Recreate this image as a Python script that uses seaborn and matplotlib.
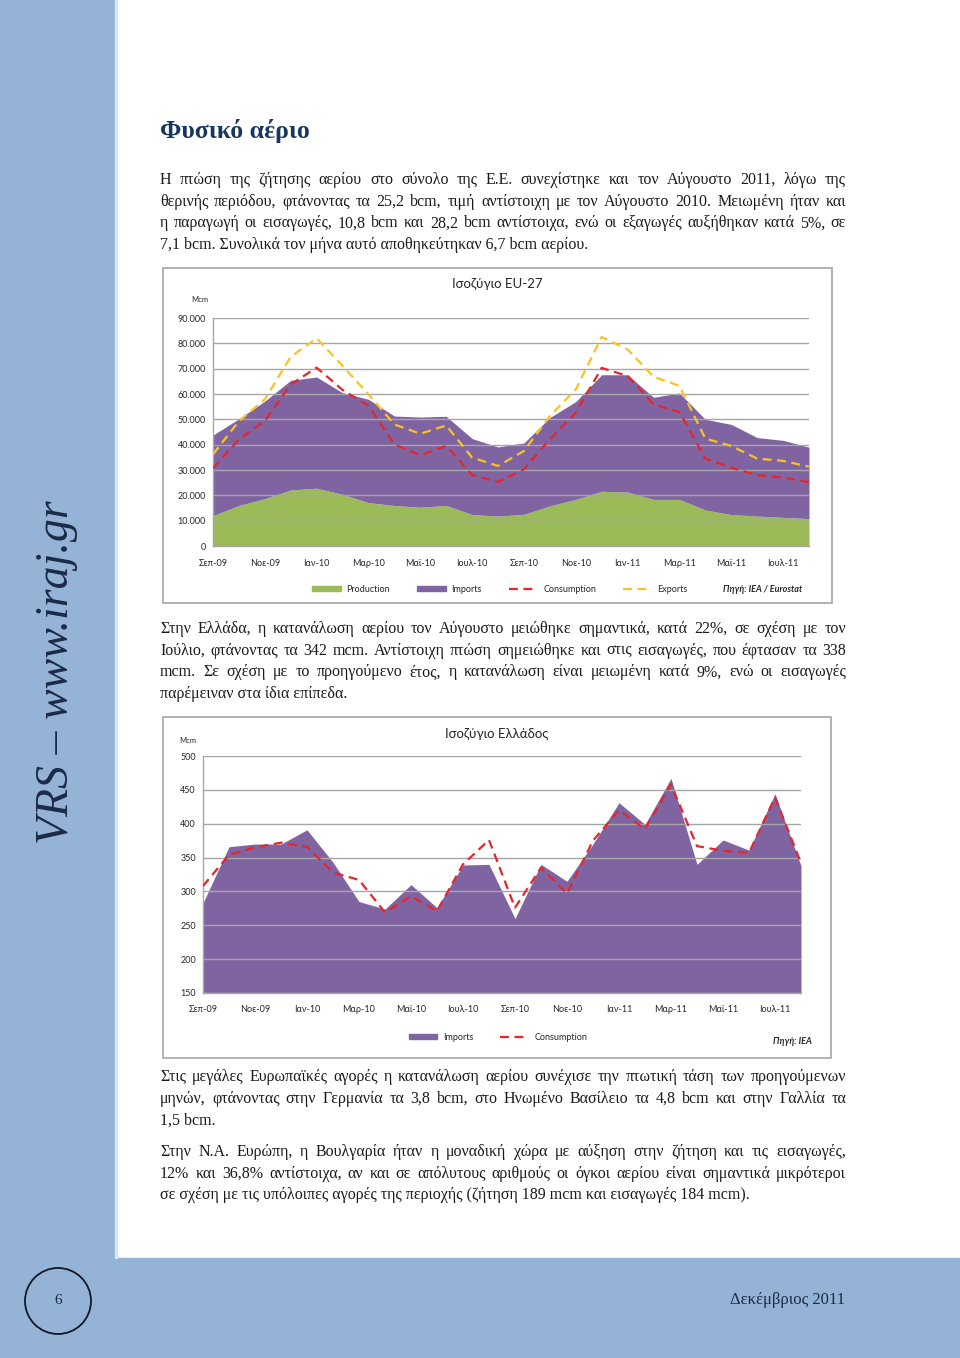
import numpy as np
import pandas as pd
import matplotlib.pyplot as plt
import seaborn as sns
from matplotlib.patches import Rectangle, Ellipse, Patch
from matplotlib.lines import Line2D

# Data (Mcm), Sep-09 .. Aug-11
months = ['Σεπ-09', 'Οκτ-09', 'Νοε-09', 'Δεκ-09', 'Ιαν-10', 'Φεβ-10', 'Μαρ-10', 'Απρ-10',
          'Μαϊ-10', 'Ιουν-10', 'Ιουλ-10', 'Αυγ-10', 'Σεπ-10', 'Οκτ-10', 'Νοε-10', 'Δεκ-10',
          'Ιαν-11', 'Φεβ-11', 'Μαρ-11', 'Απρ-11', 'Μαϊ-11', 'Ιουν-11', 'Ιουλ-11', 'Αυγ-11']

eu_production = [12000, 16000, 18700, 22100, 22800, 20400, 17100, 16000, 15300, 16000, 12400, 11800,
                 12500, 15800, 18400, 21600, 21300, 18400, 18400, 14200, 12400, 11800, 11300, 10800]
eu_imports = [31800, 34200, 38500, 43300, 43900, 40100, 40800, 35300, 35600, 35200, 30000, 27300,
              28200, 34900, 38600, 46000, 46300, 40300, 42000, 35800, 35600, 31000, 30400, 28200]
eu_consumption = [30700, 42100, 49300, 63800, 70400, 61600, 55300, 40100, 35800, 39500, 28000, 25300,
                  30300, 42100, 52600, 70300, 67100, 55900, 52900, 34500, 30900, 28000, 27000, 25200]
eu_exports = [36200, 49300, 57900, 74700, 82000, 71100, 59900, 48000, 44300, 47600, 34900, 31600,
              37500, 51300, 61800, 82500, 77600, 66800, 63200, 42400, 39500, 34500, 33600, 31300]

gr_imports = [283, 366, 370, 370, 391, 343, 285, 274, 310, 276, 339, 340,
              260, 340, 315, 370, 431, 399, 467, 340, 376, 361, 444, 338]
gr_consumption = [308, 354, 365, 372, 366, 328, 317, 269, 293, 271, 340, 376,
                  276, 335, 297, 375, 420, 392, 458, 367, 360, 357, 439, 342]

eu = pd.DataFrame({'month': np.arange(len(months)), 'Production': eu_production,
                   'Imports': eu_imports, 'Consumption': eu_consumption, 'Exports': eu_exports})
gr = pd.DataFrame({'month': np.arange(len(months)), 'Imports': gr_imports,
                   'Consumption': gr_consumption})

GREEN = '#9BBB59'
PURPLE = '#8064A2'
RED = '#E3262E'
YELLOW = '#F7C325'
GRID = '#A6A6A6'
BLUE_BG = '#95B3D7'
NAVY = '#1B2A47'

sns.set_style('white')
plt.rcParams['font.family'] = ['Lato', 'Open Sans', 'DejaVu Sans']
SERIF = ['Liberation Serif', 'DejaVu Serif']
CHART_FONT = ['Lato', 'Open Sans', 'DejaVu Sans']

W, H = 960, 1358
fig = plt.figure(figsize=(W / 100, H / 100), dpi=100)


def fx(x):
    return x / W


def fy(y):
    return 1 - y / H


# page decoration: left strip, bottom band, page number, footer
fig.add_artist(Rectangle((0, 0), fx(115), 1, transform=fig.transFigure, color=BLUE_BG, zorder=0))
fig.add_artist(Rectangle((0, 0), 1, fy(1258), transform=fig.transFigure, color=BLUE_BG, zorder=0))
fig.add_artist(Rectangle((fx(115), fy(1258)), fx(2), 1 - fy(1258), transform=fig.transFigure,
                         color='#DCE6F1', zorder=0))
fig.add_artist(Ellipse((fx(58), fy(1301)), fx(66), 66 / H, transform=fig.transFigure,
                       fill=False, edgecolor='#111827', lw=1.3))
fig.text(fx(58), fy(1301), '6', family=SERIF, fontsize=11, color=NAVY, ha='center', va='center')
fig.text(fx(845), fy(1300), 'Δεκέμβριος 2011', family=SERIF, fontsize=12, color=NAVY,
         ha='right', va='center')
fig.text(fx(57), fy(672), 'VRS – www.iraj.gr', family=SERIF, style='italic', fontsize=33,
         color=NAVY, rotation=90, ha='center', va='center')

fig.text(fx(160), fy(131), 'Φυσικό αέριο', family=SERIF, fontsize=18.5, fontweight='bold',
         color='#17375E', ha='left', va='center')

renderer = fig.canvas.get_renderer()


def justify(y, line, last=False, x0=160, x1=846):
    kw = dict(family=SERIF, fontsize=11.5, color='#1a1a1a', va='center')
    if last:
        fig.text(fx(x0), fy(y), line, ha='left', **kw)
        return
    words = line.split(' ')
    texts = [fig.text(0, fy(y), w, ha='left', **kw) for w in words]
    widths = [t.get_window_extent(renderer).width for t in texts]
    gap = (x1 - x0 - sum(widths)) / (len(words) - 1)
    x = x0
    for t, w in zip(texts, widths):
        t.set_x(fx(x))
        x += w + gap


paragraphs = [
    (180, ['Η πτώση της ζήτησης αερίου στο σύνολο της Ε.Ε. συνεχίστηκε και τον Αύγουστο 2011, λόγω της',
           'θερινής περιόδου, φτάνοντας τα 25,2 bcm, τιμή αντίστοιχη με τον Αύγουστο 2010. Μειωμένη ήταν και',
           'η παραγωγή οι εισαγωγές, 10,8 bcm και 28,2 bcm αντίστοιχα, ενώ οι εξαγωγές αυξήθηκαν κατά 5%, σε',
           '7,1 bcm. Συνολικά τον μήνα αυτό αποθηκεύτηκαν 6,7 bcm αερίου.']),
    (629, ['Στην Ελλάδα, η κατανάλωση αερίου τον Αύγουστο μειώθηκε σημαντικά, κατά 22%, σε σχέση με τον',
           'Ιούλιο, φτάνοντας τα 342 mcm. Αντίστοιχη πτώση σημειώθηκε και στις εισαγωγές, που έφτασαν τα 338',
           'mcm. Σε σχέση με το προηγούμενο έτος, η κατανάλωση είναι μειωμένη κατά 9%, ενώ οι εισαγωγές',
           'παρέμειναν στα ίδια επίπεδα.']),
    (1077, ['Στις μεγάλες Ευρωπαϊκές αγορές η κατανάλωση αερίου συνέχισε την πτωτική τάση των προηγούμενων',
            'μηνών, φτάνοντας στην Γερμανία τα 3,8 bcm, στο Ηνωμένο Βασίλειο τα 4,8 bcm και στην Γαλλία τα',
            '1,5 bcm.']),
    (1152, ['Στην Ν.Α. Ευρώπη, η Βουλγαρία ήταν η μοναδική χώρα με αύξηση στην ζήτηση και τις εισαγωγές,',
            '12% και 36,8% αντίστοιχα, αν και σε απόλυτους αριθμούς οι όγκοι αερίου είναι σημαντικά μικρότεροι',
            'σε σχέση με τις υπόλοιπες αγορές της περιοχής (ζήτηση 189 mcm και εισαγωγές 184 mcm).']),
]
for y0, lines in paragraphs:
    for i, line in enumerate(lines):
        justify(y0 + i * 21.7, line, last=(i == len(lines) - 1))


def style_axes(ax):
    for s in ['top', 'right']:
        ax.spines[s].set_visible(False)
    for s in ['left', 'bottom']:
        ax.spines[s].set_color(GRID)
        ax.spines[s].set_linewidth(1)
    ax.set_xlim(0, len(months) - 1)
    ax.set_xticks(range(0, len(months), 2))
    ax.set_xticklabels(months[::2], fontsize=6.5, family=CHART_FONT)
    ax.set_xticks(range(len(months)), minor=True)
    ax.tick_params(axis='x', which='both', direction='out', length=3, color=GRID, pad=6)
    ax.tick_params(axis='y', direction='out', length=3, color=GRID, labelsize=6.5, pad=2)
    ax.yaxis.grid(True, color=GRID, lw=1)
    ax.xaxis.grid(False)
    ax.set_xlabel('')
    ax.set_ylabel('')
    ax.set_axisbelow(False)


def chart_box(x0, y0, x1, y1):
    fig.add_artist(Rectangle((fx(x0), fy(y1)), fx(x1 - x0), (y1 - y0) / H,
                             transform=fig.transFigure, fill=False, edgecolor='#A6A6A6', lw=1.2))


# ---- Chart 1: EU-27 ----
chart_box(163, 268, 832, 603)
ax1 = fig.add_axes([fx(213), fy(546), fx(809 - 213), (546 - 318) / H])
x = eu['month']
total = eu['Production'] + eu['Imports']
ax1.fill_between(x, 0, eu['Production'], color=GREEN, lw=0, zorder=2)
ax1.fill_between(x, eu['Production'], total, color=PURPLE, lw=0, zorder=2)
sns.lineplot(data=eu, x='month', y='Consumption', ax=ax1, color=RED, lw=1.6, zorder=3)
sns.lineplot(data=eu, x='month', y='Exports', ax=ax1, color=YELLOW, lw=1.6, zorder=3)
for ln in ax1.lines:
    ln.set_dashes((4, 2.5))
ax1.set_ylim(0, 90000)
ax1.set_yticks(range(0, 90001, 10000))
ax1.set_yticklabels([f'{v:,}'.replace(',', '.') for v in range(0, 90001, 10000)],
                    family=CHART_FONT)
style_axes(ax1)

fig.text(fx(497), fy(284), 'Ισοζύγιο EU-27', fontsize=9.5, ha='center', va='center', family=CHART_FONT)
fig.text(fx(200), fy(300), 'Mcm', fontsize=5.5, ha='center', va='center', family=CHART_FONT)
h1 = [Patch(color=GREEN, label='Production'), Patch(color=PURPLE, label='Imports'),
      Line2D([], [], color=RED, lw=1.6, dashes=(4, 2.5), label='Consumption'),
      Line2D([], [], color=YELLOW, lw=1.6, dashes=(4, 2.5), label='Exports')]
fig.legend(handles=h1, loc='center', bbox_to_anchor=(fx(500), fy(589)), ncol=4, frameon=False,
           prop={'family': CHART_FONT, 'size': 6.5}, handlelength=3.2, handleheight=0.55,
           columnspacing=3.0, handletextpad=0.6)
fig.text(fx(802), fy(590), 'Πηγή: IEA / Eurostat', fontsize=6.5, fontweight='bold', style='italic',
         ha='right', va='center', family=CHART_FONT)

# ---- Chart 2: Greece ----
chart_box(163, 717, 831, 1058)
ax2 = fig.add_axes([fx(203), fy(993), fx(801 - 203), (993 - 756) / H])
ax2.fill_between(gr['month'], 150, gr['Imports'], color=PURPLE, lw=0, zorder=2)
sns.lineplot(data=gr, x='month', y='Consumption', ax=ax2, color=RED, lw=1.6, zorder=3)
for ln in ax2.lines:
    ln.set_dashes((4, 2.5))
ax2.set_ylim(150, 500)
ax2.set_yticks(range(150, 501, 50))
ax2.set_yticklabels([str(v) for v in range(150, 501, 50)], family=CHART_FONT)
style_axes(ax2)

fig.text(fx(497), fy(734), 'Ισοζύγιο Ελλάδος', fontsize=9.5, ha='center', va='center', family=CHART_FONT)
fig.text(fx(188), fy(741), 'Mcm', fontsize=5.5, ha='center', va='center', family=CHART_FONT)
h2 = [Patch(color=PURPLE, label='Imports'),
      Line2D([], [], color=RED, lw=1.6, dashes=(4, 2.5), label='Consumption')]
fig.legend(handles=h2, loc='center', bbox_to_anchor=(fx(498), fy(1037)), ncol=2, frameon=False,
           prop={'family': CHART_FONT, 'size': 6.5}, handlelength=3.2, handleheight=0.55,
           columnspacing=3.0, handletextpad=0.6)
fig.text(fx(812), fy(1041), 'Πηγή: IEA', fontsize=6.5, fontweight='bold', style='italic',
         ha='right', va='center', family=CHART_FONT)

fig.savefig('out.png', dpi=100)
